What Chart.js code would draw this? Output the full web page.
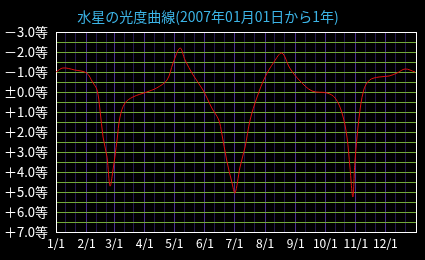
<!DOCTYPE html>
<html>
<head>
<meta charset="utf-8">
<script src="https://cdn.jsdelivr.net/npm/chart.js@4"></script>
<style>
  html, body { margin: 0; padding: 0; background: #000; }
  canvas { display: block; }
</style>
</head>
<body>
<canvas id="chartMercury" width="425" height="260"></canvas>
<script>
// day offsets from 2007/01/01 and the magnitude
const days = [0, 7, 19, 31, 37, 41.6, 44.6, 47.7, 51.7, 54.8, 57.8, 61.9, 64.9, 70, 78, 92, 102, 112.6, 118.7, 125.8,
  130.8, 139, 149, 158, 165, 168, 173, 178.5, 181.5, 186.6, 191.7, 196.8, 203.9, 212, 221, 229, 237, 246.5,
  259.6, 274.8, 283, 290, 295, 298, 301, 303, 307, 312, 318, 327.6, 337.7, 345.8, 354, 364];
const magnitudes = [-1.0, -1.2, -1.1, -0.95, -0.5, -0.1, 0.9, 2.25, 3.25, 4.7, 3.9, 2.4, 1.25, 0.55, 0.25, 0.0, -0.2, -0.6, -1.45, -2.2,
  -1.6, -0.85, -0.1, 0.8, 1.4, 2.05, 3.4, 4.55, 5.05, 3.75, 2.75, 1.4, 0.25, -0.75, -1.5, -1.95, -1.2, -0.6,
  -0.05, 0.05, 0.3, 1.05, 2.25, 3.75, 5.25, 3.55, 1.4, -0.1, -0.6, -0.75, -0.8, -0.95, -1.15, -1.0];

const monthLabels = ['1/1', '2/1', '3/1', '4/1', '5/1', '6/1', '7/1', '8/1', '9/1', '10/1', '11/1', '12/1'];
const monthStartDays = [0, 31, 59, 90, 120, 151, 181, 212, 243, 273, 304, 334];
const yearLength = 365;

// grid lines on the 1st, 11th and 21st of every month
const gridDays = [];
monthStartDays.forEach((d) => {
  gridDays.push(d, d + 10, d + 20);
});
gridDays.push(yearLength);

const formatMag = (v) => {
  if (v === 0) return '±0.0等';
  return (v < 0 ? '－' : '＋') + Math.abs(v).toFixed(1) + '等';
};

const canvas = document.getElementById('chartMercury');

const chart = new Chart(canvas, {
  type: 'line',
  data: {
    datasets: [
      {
        data: days.map((d, i) => ({ x: d, y: magnitudes[i] })),
        borderColor: '#e01010',
        borderWidth: 1,
        pointRadius: 0,
        tension: 0.35,
        fill: false,
      },
    ],
  },
  options: {
    responsive: false,
    animation: false,
    layout: {
      padding: { left: 0, right: 9, top: 0, bottom: 0 },
    },
    plugins: {
      legend: { display: false },
      tooltip: { enabled: false },
      title: {
        display: true,
        text: '水星の光度曲線(2007年01月01日から1年)',
        color: '#3cb4e6',
        font: { family: '"Noto Sans CJK JP", sans-serif', size: 14, weight: 'normal', lineHeight: 1.2 },
        padding: { top: 8, bottom: 7.2 },
      },
    },
    scales: {
      x: {
        type: 'linear',
        min: 0,
        max: yearLength,
        afterBuildTicks: (scale) => {
          scale.ticks = gridDays.map((v) => ({ value: v }));
        },
        afterFit: (scale) => {
          scale.height = 28;
        },
        ticks: {
          autoSkip: false,
          maxRotation: 0,
          padding: 4,
          color: '#ffffff',
          font: { family: '"Noto Sans CJK JP", sans-serif', size: 12 },
          callback: (value) => {
            const i = monthStartDays.indexOf(value);
            return i >= 0 ? monthLabels[i] : '';
          },
        },
        grid: {
          drawTicks: false,
          lineWidth: 1,
          color: (ctx) => {
            const v = ctx.tick && ctx.tick.value;
            if (v === 0 || v === yearLength) return '#ffffff';
            return monthStartDays.includes(v) ? '#4c3090' : '#24174e';
          },
        },
        border: { color: '#ffffff', width: 1 },
      },
      y: {
        min: -3,
        max: 7,
        reverse: true,
        afterFit: (scale) => {
          scale.width = 56;
        },
        ticks: {
          stepSize: 0.5,
          autoSkip: false,
          padding: 8,
          color: '#ffffff',
          font: { family: '"Noto Sans CJK JP", sans-serif', size: 13 },
          callback: (value) => (Number.isInteger(value) ? formatMag(value) : ''),
        },
        grid: {
          drawTicks: false,
          lineWidth: 1,
          color: (ctx) => {
            const v = ctx.tick && ctx.tick.value;
            if (v === -3 || v === 7) return '#ffffff';
            return '#72a83a';
          },
        },
        border: { color: '#ffffff', width: 1 },
      },
    },
  },
});

chart.update();
</script>
</body>
</html>
